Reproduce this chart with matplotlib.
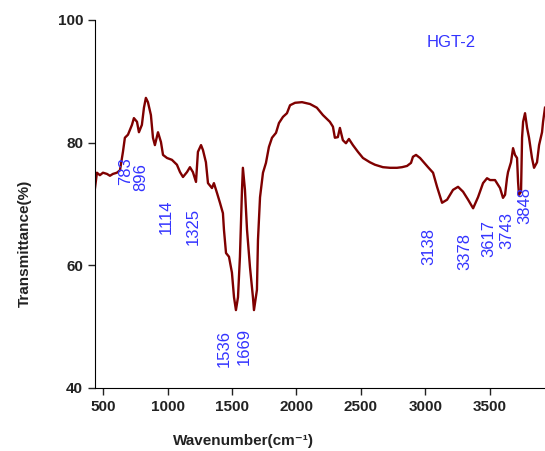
import matplotlib
matplotlib.use("Agg")
import matplotlib.pyplot as plt
import numpy as np

plt.rcParams["font.family"] = ["Liberation Sans", "DejaVu Sans"]

# Espectro FTIR (número de onda, transmitância)
wavenumber = [
    436, 451, 474, 498, 529, 552, 575, 606, 630, 653, 668, 692, 723, 738, 762,
    777, 800, 816, 831, 847, 870, 886, 901, 925, 948, 964, 995, 1033, 1072,
    1096, 1119, 1150, 1173, 1196, 1220, 1235, 1259, 1274, 1297, 1313, 1344,
    1359, 1383, 1406, 1429, 1437, 1453, 1476, 1499, 1515, 1530, 1546, 1561,
    1577, 1584, 1600, 1616, 1639, 1662, 1670, 1693, 1701, 1717, 1740, 1763,
    1786, 1810, 1841, 1864, 1895, 1926, 1950, 1989, 2043, 2105, 2158, 2205,
    2259, 2283, 2298, 2321, 2337, 2360, 2384, 2407, 2438, 2477, 2516, 2570,
    2609, 2671, 2726, 2780, 2819, 2858, 2889, 2904, 2928, 2959, 3021, 3060,
    3091, 3130, 3169, 3215, 3254, 3293, 3332, 3371, 3409, 3448, 3479, 3503,
    3541, 3580, 3603, 3619, 3634, 3642, 3665, 3681, 3696, 3712, 3720, 3727,
    3743, 3751, 3759, 3774, 3790, 3805, 3828, 3844, 3867, 3883, 3906, 3914,
    3929,
]
transmittance = [
    72.6, 75.1, 74.7, 75.1, 74.9, 74.6, 74.9, 75.1, 75.5, 78.5, 80.8, 81.3,
    82.9, 84.0, 83.4, 81.7, 82.9, 85.7, 87.3, 86.6, 84.5, 80.8, 79.6, 81.7,
    80.1, 78.0, 77.5, 77.2, 76.4, 75.2, 74.4, 75.2, 76.0, 75.2, 73.6, 78.5,
    79.6, 78.8, 76.8, 73.4, 72.6, 73.4, 71.8, 70.2, 68.5, 65.8, 62.0, 61.4,
    58.8, 54.8, 52.7, 54.8, 61.4, 72.3, 75.9, 72.3, 65.8, 59.7, 54.8, 52.7,
    56.0, 64.1, 71.1, 75.1, 76.7, 79.3, 80.8, 81.6, 83.2, 84.2, 84.8, 86.1,
    86.5, 86.6, 86.3, 85.7, 84.5, 83.4, 82.6, 80.8, 80.9, 82.4, 80.4, 79.9,
    80.6, 79.6, 78.5, 77.5, 76.8, 76.4, 76.0, 75.9, 75.9, 76.0, 76.2, 76.7,
    77.7, 78.0, 77.5, 76.0, 75.1, 72.8, 70.2, 70.7, 72.3, 72.8, 72.0, 70.7,
    69.3, 71.1, 73.4, 74.2, 73.9, 73.9, 72.6, 71.0, 71.5, 74.2, 75.2, 76.8,
    79.1, 78.0, 77.5, 73.6, 71.5, 72.0, 80.8, 83.4, 84.8, 82.4, 80.8, 77.5,
    75.9, 76.8, 79.6, 81.7, 83.4, 85.7,
]

# Rótulos dos picos e onde aparecem no gráfico
peak_labels = ["783", "896", "1114", "1325", "1536", "1669",
               "3138", "3378", "3617", "3743", "3848"]
peak_x = [677, 793, 987, 1196, 1437, 1592, 3029, 3308, 3495, 3634, 3774]
peak_y = [75.4, 74.4, 68.0, 66.4, 46.4, 46.7, 63.0, 62.2, 64.3, 65.6, 69.7]

fig = plt.figure(figsize=(5.45, 4.51), dpi=100)
ax = fig.add_axes([0.1743, 0.1397, 0.8257, 0.816])

ax.plot(wavenumber, transmittance, color="#7f0000", linewidth=1.7)

for lab, px, py in zip(peak_labels, peak_x, peak_y):
    ax.text(px, py, lab, rotation=90, color="#3333ff", fontsize=12,
            ha="center", va="center")

ax.text(3200, 96.3, "HGT-2", color="#3333ff", fontsize=12,
        ha="center", va="center")

ax.set_xlim(436, 3929)
ax.set_ylim(40, 100)
ax.set_xticks(np.arange(500, 4000, 500))
ax.set_yticks([40, 60, 80, 100])

ax.spines["top"].set_visible(False)
ax.spines["right"].set_visible(False)
ax.tick_params(direction="out", length=5, width=1, labelsize=11,
               colors="#222222")
for lbl in ax.get_xticklabels() + ax.get_yticklabels():
    lbl.set_fontweight("bold")

ax.set_xlabel("Wavenumber(cm\u207b\u00b9)", fontsize=11, fontweight="bold",
              color="#222222")
ax.set_ylabel("Transmittance(%)", fontsize=11, fontweight="bold",
              color="#222222")
ax.xaxis.set_label_coords(0.331, -0.125)
ax.yaxis.set_label_coords(-0.14, 0.394)

fig.savefig("out.png", dpi=100)
